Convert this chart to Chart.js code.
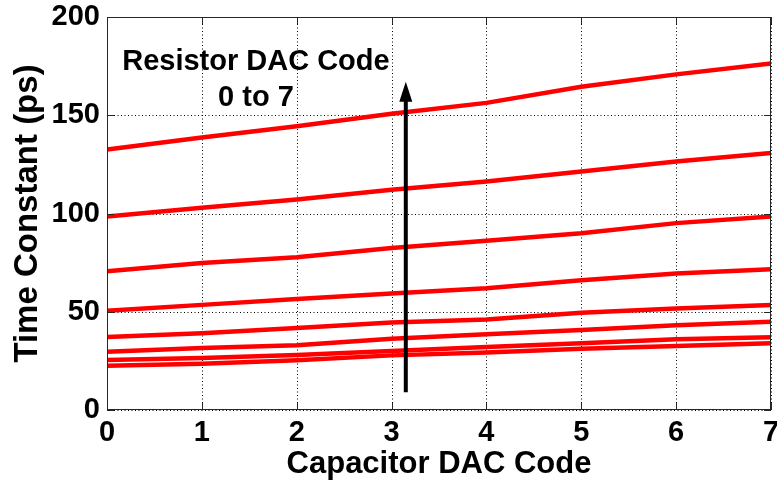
<!DOCTYPE html>
<html>
<head>
<meta charset="utf-8">
<script src="https://cdn.jsdelivr.net/npm/chart.js@4.4.1/dist/chart.umd.min.js"></script>
<style>
  html, body { margin: 0; padding: 0; background: #ffffff; }
  #wrap { width: 777px; height: 483px; }
</style>
</head>
<body>
<div id="wrap"><canvas id="c" width="777" height="483"></canvas></div>
<script>
// Capacitor DAC code on the x axis
const capCodes = [0, 1, 2, 3, 4, 5, 6, 7];

// Time constant (ps) for each resistor DAC code
const rCode0 = [22.5, 23.5, 25.3, 27.8, 29.3, 31.2, 32.6, 34.0];
const rCode1 = [25.5, 26.5, 28.0, 30.0, 32.0, 34.0, 36.0, 37.0];
const rCode2 = [29.7, 31.5, 33.0, 36.3, 38.5, 40.7, 43.1, 44.9];
const rCode3 = [37.1, 39.1, 41.7, 44.5, 46.0, 49.5, 51.6, 53.4];
const rCode4 = [50.5, 53.5, 56.5, 59.3, 62.0, 66.0, 69.5, 71.6];
const rCode5 = [70.6, 74.8, 77.7, 82.5, 86.1, 90.0, 95.1, 98.5];
const rCode6 = [98.5, 102.9, 107.1, 112.1, 116.3, 121.4, 126.5, 130.8];
const rCode7 = [132.5, 138.7, 144.4, 150.8, 156.3, 164.5, 170.8, 176.4];

const seriesList = [rCode0, rCode1, rCode2, rCode3, rCode4, rCode5, rCode6, rCode7];

// Axis ticks
const xTickValues = [0, 1, 2, 3, 4, 5, 6, 7];
const yTickValues = [0, 50, 100, 150, 200];

// Arrow showing increasing resistor code, and its caption
const arrowX = 3.15;
const arrowFromY = 9;
const arrowToY = 167;
const noteLines = ['Resistor DAC Code', '0 to 7'];
const noteX = 1.57;
const noteY = [177, 159];

const FONT = '"Liberation Sans", Arial, Helvetica, sans-serif';

const datasets = seriesList.map((vals, i) => ({
  label: 'R' + i,
  data: capCodes.map((c, k) => ({ x: c, y: vals[k] })),
  borderColor: '#ff0000',
  backgroundColor: '#ff0000',
  borderWidth: 4.5,
  pointRadius: 0,
  tension: 0,
  fill: false
}));

// Dotted grid under the curves
const gridPlugin = {
  id: 'dottedGrid',
  beforeDatasetsDraw(chart) {
    const { ctx, chartArea: a, scales } = chart;
    ctx.save();
    ctx.strokeStyle = '#000000';
    ctx.lineWidth = 1;
    ctx.setLineDash([1, 2.5]);
    ctx.beginPath();
    xTickValues.forEach(v => {
      const px = Math.round(scales.x.getPixelForValue(v)) + 0.5;
      ctx.moveTo(px, a.bottom); ctx.lineTo(px, a.top);
    });
    yTickValues.forEach(v => {
      const py = Math.round(scales.y.getPixelForValue(v)) + 0.5;
      ctx.moveTo(a.left, py); ctx.lineTo(a.right, py);
    });
    ctx.stroke();
    ctx.restore();
  }
};

// Solid box around the plot with inward tick marks on all four sides
const framePlugin = {
  id: 'frame',
  afterDraw(chart) {
    const { ctx, chartArea: a, scales } = chart;
    const xs = scales.x, ys = scales.y;
    ctx.save();
    ctx.strokeStyle = '#262626';
    ctx.lineWidth = 1;
    ctx.setLineDash([]);
    ctx.strokeRect(a.left + 0.5, a.top + 0.5, a.right - a.left - 1, a.bottom - a.top - 1);
    const len = 7;
    ctx.beginPath();
    xTickValues.forEach(v => {
      const px = Math.round(xs.getPixelForValue(v)) + 0.5;
      ctx.moveTo(px, a.bottom); ctx.lineTo(px, a.bottom - len);
      ctx.moveTo(px, a.top); ctx.lineTo(px, a.top + len);
    });
    yTickValues.forEach(v => {
      const py = Math.round(ys.getPixelForValue(v)) + 0.5;
      ctx.moveTo(a.left, py); ctx.lineTo(a.left + len, py);
      ctx.moveTo(a.right, py); ctx.lineTo(a.right - len, py);
    });
    ctx.stroke();
    ctx.restore();
  }
};

// Arrow and caption placed in data coordinates
const notePlugin = {
  id: 'note',
  afterDatasetsDraw(chart) {
    const { ctx, scales } = chart;
    const xs = scales.x, ys = scales.y;
    const ax = xs.getPixelForValue(arrowX);
    const y0 = ys.getPixelForValue(arrowFromY);
    const y1 = ys.getPixelForValue(arrowToY);
    const headLen = 20, headHalf = 6.5;
    ctx.save();
    ctx.strokeStyle = '#000000';
    ctx.fillStyle = '#000000';
    ctx.lineWidth = 4;
    ctx.beginPath();
    ctx.moveTo(ax, y0);
    ctx.lineTo(ax, y1 + headLen - 2);
    ctx.stroke();
    ctx.beginPath();
    ctx.moveTo(ax, y1);
    ctx.lineTo(ax - headHalf, y1 + headLen);
    ctx.lineTo(ax + headHalf, y1 + headLen);
    ctx.closePath();
    ctx.fill();

    ctx.font = 'bold 29px ' + FONT;
    ctx.textAlign = 'center';
    ctx.textBaseline = 'middle';
    noteLines.forEach((t, i) => {
      ctx.fillText(t, xs.getPixelForValue(noteX), ys.getPixelForValue(noteY[i]));
    });
    ctx.restore();
  }
};

new Chart(document.getElementById('c'), {
  type: 'line',
  data: { datasets },
  plugins: [gridPlugin, framePlugin, notePlugin],
  options: {
    responsive: false,
    devicePixelRatio: 1,
    animation: false,
    events: [],
    layout: { padding: { left: 0, right: 6, top: 17, bottom: 0 } },
    plugins: { legend: { display: false }, tooltip: { enabled: false } },
    scales: {
      x: {
        type: 'linear',
        min: 0, max: 7,
        afterBuildTicks(scale) { scale.ticks = xTickValues.map(v => ({ value: v })); },
        afterFit(scale) { scale.height = 73; scale.paddingLeft = 0; scale.paddingRight = 0; },
        grid: { display: false, drawTicks: false },
        border: { display: false },
        ticks: {
          color: '#000000',
          padding: 6,
          maxRotation: 0,
          font: { family: FONT, size: 29, weight: 'bold' }
        },
        title: {
          display: true,
          text: 'Capacitor DAC Code',
          color: '#000000',
          font: { family: FONT, size: 31, weight: 'bold' },
          padding: { top: 0, bottom: 0 }
        }
      },
      y: {
        type: 'linear',
        min: 0, max: 200,
        afterBuildTicks(scale) { scale.ticks = yTickValues.map(v => ({ value: v })); },
        afterFit(scale) { scale.width = 107; scale.paddingTop = 0; scale.paddingBottom = 0; },
        grid: { display: false, drawTicks: false },
        border: { display: false },
        ticks: {
          color: '#000000',
          padding: 7,
          font: { family: FONT, size: 29, weight: 'bold' }
        },
        title: {
          display: true,
          text: 'Time Constant (ps)',
          color: '#000000',
          font: { family: FONT, size: 33, weight: 'bold' },
          padding: { top: 8, bottom: 0 }
        }
      }
    }
  }
});
</script>
</body>
</html>
